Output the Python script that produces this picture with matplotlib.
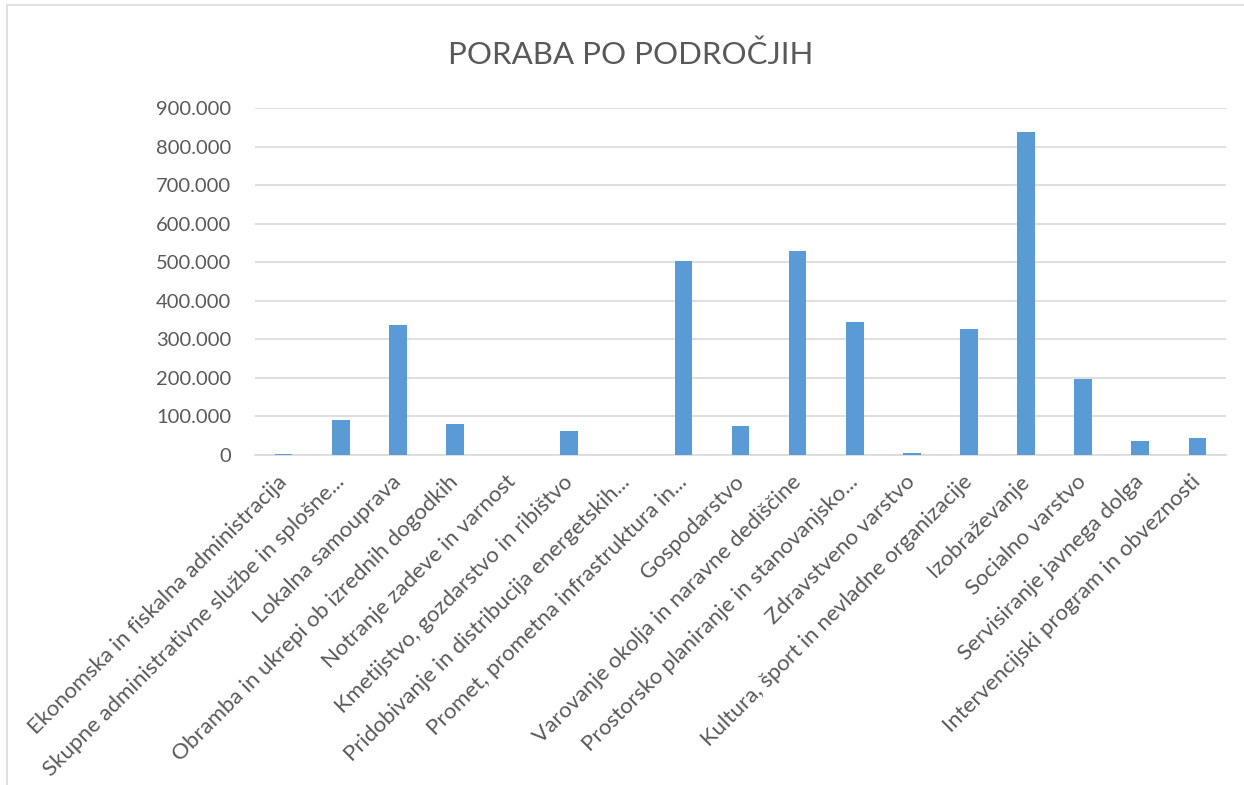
import matplotlib.pyplot as plt
import matplotlib.transforms as mtransforms
from matplotlib.ticker import FuncFormatter, MultipleLocator
from matplotlib.patches import Rectangle

plt.rcParams['font.family'] = ['Lato', 'DejaVu Sans']

# spending per area
categories = [
    'Ekonomska in fiskalna administracija',
    'Skupne administrativne službe in splošne...',
    'Lokalna samouprava',
    'Obramba in ukrepi ob izrednih dogodkih',
    'Notranje zadeve in varnost',
    'Kmetijstvo, gozdarstvo in ribištvo',
    'Pridobivanje in distribucija energetskih...',
    'Promet, prometna infrastruktura in...',
    'Gospodarstvo',
    'Varovanje okolja in naravne dediščine',
    'Prostorsko planiranje in stanovanjsko...',
    'Zdravstveno varstvo',
    'Kultura, šport in nevladne organizacije',
    'Izobraževanje',
    'Socialno varstvo',
    'Servisiranje javnega dolga',
    'Intervencijski program in obveznosti',
]
values = [1500, 91000, 337000, 80000, 500, 61500, 0, 503000, 75000,
          529000, 345000, 5000, 327000, 838000, 197000, 37000, 43000]

text_col = '#595959'
grid_col = '#d9d9d9'

fig = plt.figure(figsize=(12.44, 7.85), dpi=100)
ax = fig.add_axes([0.205, 0.4204, 0.7805, 0.442])

x = range(len(categories))
ax.bar(x, values, width=0.31, color='#5B9BD5', zorder=3)

ax.set_xlim(-0.5, len(categories) - 0.5)
ax.set_ylim(0, 900000)
ax.yaxis.set_major_locator(MultipleLocator(100000))
ax.yaxis.set_major_formatter(FuncFormatter(lambda v, p: f'{int(v):,}'.replace(',', '.')))
ax.grid(axis='y', color=grid_col, linewidth=1.2, zorder=0)

for s in ['top', 'right', 'left']:
    ax.spines[s].set_visible(False)
ax.spines['bottom'].set_color(grid_col)
ax.spines['bottom'].set_linewidth(1.2)

ax.tick_params(axis='y', length=0, labelsize=14.5, labelcolor=text_col, pad=17)
ax.tick_params(axis='x', length=0, labelsize=16, labelcolor=text_col, pad=12)
ax.set_xticks(list(x))
ax.set_xticklabels(categories, rotation=45, ha='right', rotation_mode='anchor')
# nudge rotated labels a little to the left
shift = mtransforms.ScaledTranslation(-7 / 100, 0, fig.dpi_scale_trans)
for lbl in ax.get_xticklabels():
    lbl.set_transform(lbl.get_transform() + shift)

fig.text(0.507, 0.93, 'PORABA PO PODROČJIH', ha='center', va='center',
         fontsize=22.5, color=text_col)

# chart frame
fig.patches.append(Rectangle((0.006, -0.01), 1.2, 1.004, transform=fig.transFigure,
                             fill=False, edgecolor=grid_col, linewidth=1.2))

fig.savefig('out.png', dpi=100)
